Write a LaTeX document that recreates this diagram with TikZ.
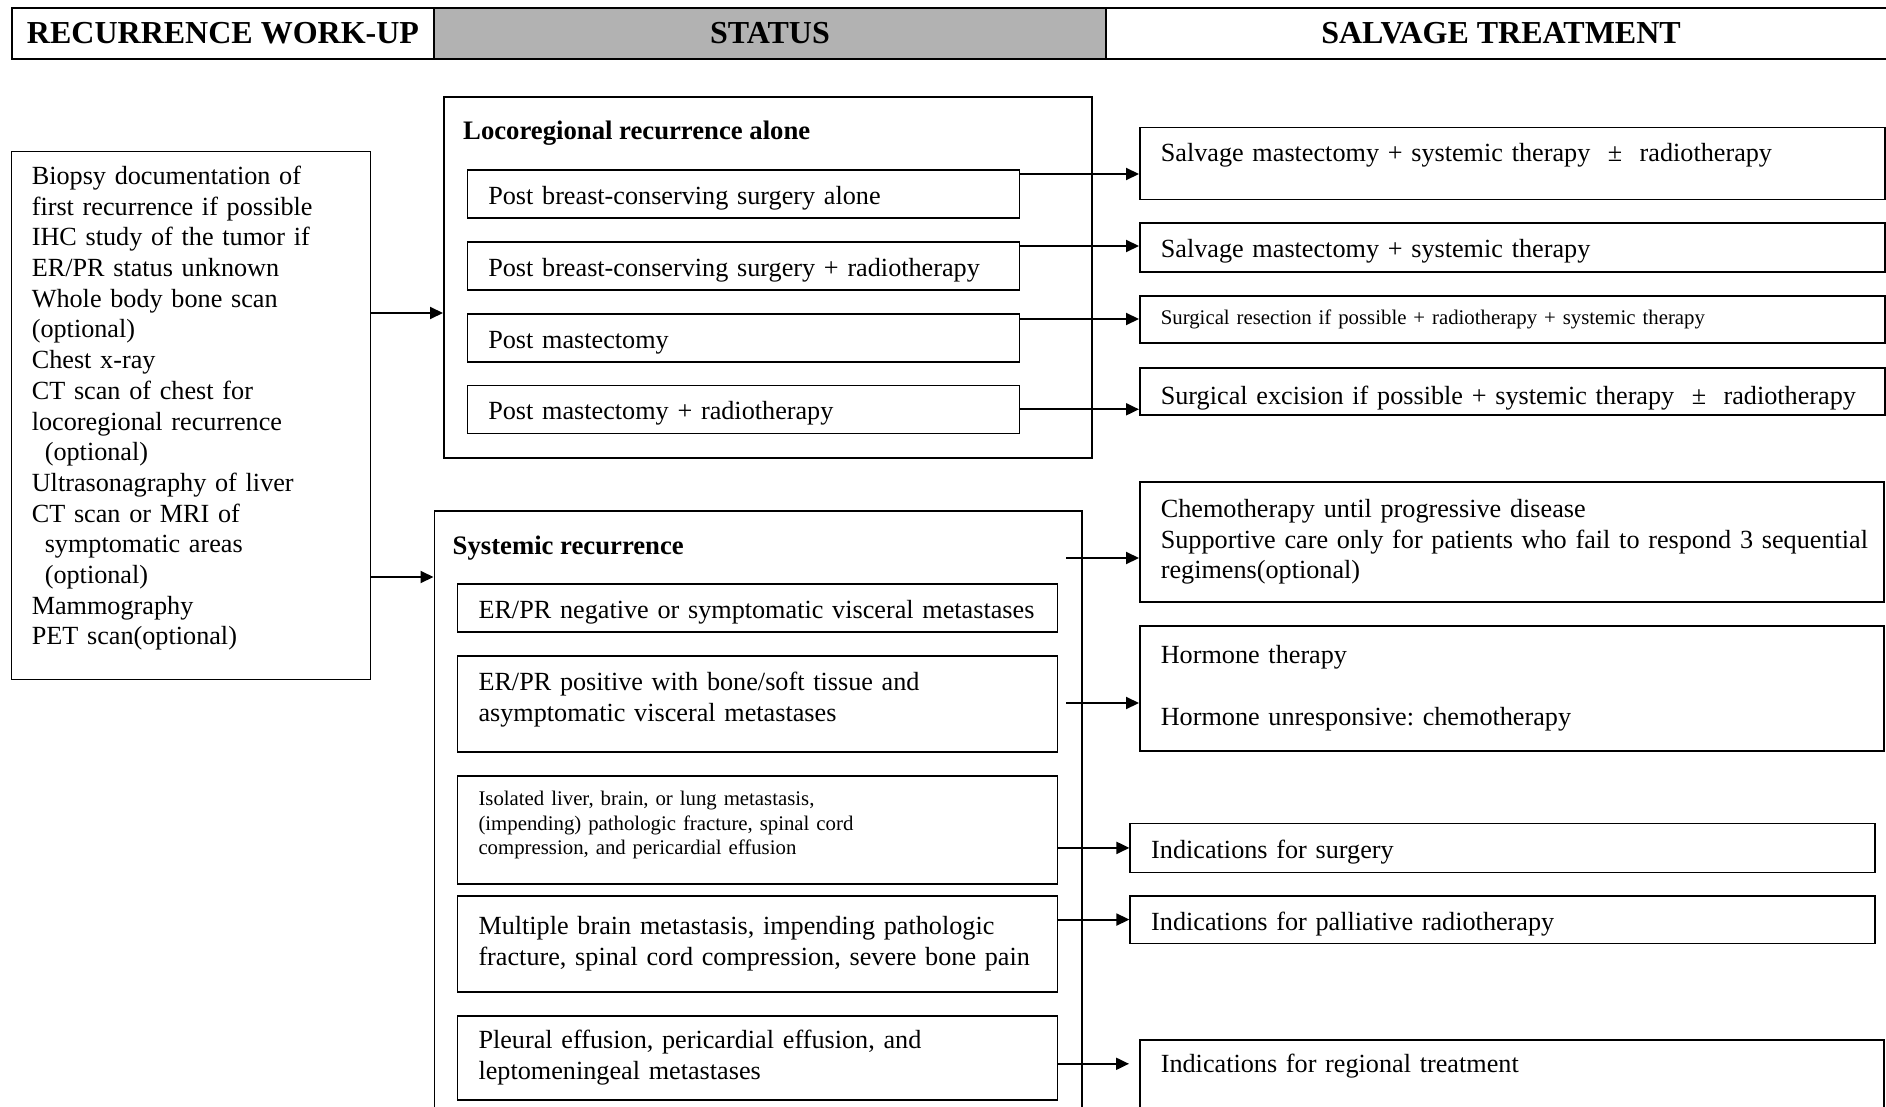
\documentclass[tikz,border=0pt]{standalone}
\usepackage{fontspec}
\setmainfont{Liberation Serif}
\usetikzlibrary{arrows.meta}
\frenchspacing

\newcommand{\corpo}{\fontsize{26.2}{30.7}\selectfont}
\newcommand{\piccolo}{\fontsize{20.8}{24.6}\selectfont}
\newcommand{\testata}{\fontsize{32}{36}\selectfont\bfseries}

\tikzset{
    cella/.style={draw, line width=2pt, anchor=north west, inner sep=0pt, minimum height=51pt, font=\testata},
    riquadro/.style={draw, line width=1.6pt, anchor=north west, inner sep=0pt},
    voce/.style={draw, line width=1.6pt, anchor=north west, align=left, inner xsep=21pt, inner ysep=0pt, font=\corpo,
        execute at begin node={\rightskip=0pt plus 1fil minus 60pt}},
    riga/.style={text height=27pt, text depth=6pt},
    titolo/.style={anchor=west, inner sep=0pt, font=\fontsize{26.7}{30.7}\selectfont\bfseries},
    freccia/.style={line width=2pt, -{Triangle[length=13pt,width=12pt]}},
}

\begin{document}
\begin{tikzpicture}[x=1pt, y=-1pt]
        \useasboundingbox (0,0) rectangle (1886,1107);

        % Intestazione
        \node[cella, minimum width=422pt] (h1) at (11,7) {RECURRENCE WORK-UP};
        \node[cella, minimum width=672pt, fill=gray!60] (h2) at (433,7) {STATUS};
        \node[cella, minimum width=790pt] (h3) at (1105,7) {SALVAGE TREATMENT};

        % Esami
        \node[voce, inner xsep=20.5pt, text width=318pt, minimum height=528pt] (wk) at (10.5,150.7) {Biopsy documentation of\\
            first recurrence if possible\\
            IHC study of the tumor if\\
            ER/PR status unknown\\
            Whole body bone scan\\
            (optional)\\
            Chest x-ray\\
            CT scan of chest for\\
            locoregional recurrence\\
            \hspace*{13pt}(optional)\\
            Ultrasonagraphy of liver\\
            CT scan or MRI of\\
            \hspace*{13pt}symptomatic areas\\
            \hspace*{13pt}(optional)\\
            Mammography\\
            PET scan(optional)\rule[-20pt]{0pt}{1pt}};

        % Recidiva locoregionale
        \node[riquadro, minimum width=648pt, minimum height=361pt] (loco) at (443,96) {};
        \node[titolo] (lrtitle) at (463,133) {Locoregional recurrence alone};
        \node[voce, riga, text width=510pt, minimum height=48pt] (lr1) at (466.5,169) {Post breast-conserving surgery alone};
        \node[voce, riga, text width=510pt, minimum height=48pt] (lr2) at (466.5,241) {Post breast-conserving surgery + radiotherapy};
        \node[voce, riga, text width=510pt, minimum height=48pt] (lr3) at (466.5,313) {Post mastectomy};
        \node[voce, riga, text width=510pt, minimum height=48pt] (lr4) at (466.5,384.5) {Post mastectomy + radiotherapy};

        \node[voce, text width=703pt, minimum height=72pt, text height=18pt, text depth=21.4pt] (rs1) at (1139,126.7) {Salvage mastectomy + systemic therapy ~±~ radiotherapy};
        \node[voce, riga, text width=703pt, minimum height=49pt] (rs2) at (1139,222) {Salvage mastectomy + systemic therapy};
        \node[voce, text width=703pt, minimum height=47pt, font=\piccolo] (rs3) at (1139,295) {Surgical resection if possible + radiotherapy + systemic therapy};
        \node[voce, riga, text height=32pt, text width=703pt, minimum height=47pt] (rs4) at (1139,367) {Surgical excision if possible + systemic therapy ~±~ radiotherapy};

        % Recidiva sistemica
        \node[riquadro, minimum width=647.5pt, minimum height=610pt] (sys) at (433.5,510.4) {};
        \node[titolo] (systitle) at (452.5,548) {Systemic recurrence};
        \node[voce, riga, text width=558pt, minimum height=48pt] (sy1) at (456.7,583) {ER/PR negative or symptomatic visceral metastases};
        \node[voce, text width=558pt, minimum height=96pt] (sy2) at (456.7,655) {ER/PR positive with bone/soft tissue and\\ asymptomatic visceral metastases\rule[-14pt]{0pt}{1pt}};
        \node[voce, text width=558pt, minimum height=108pt, font=\piccolo] (sy3) at (456.7,775) {Isolated liver, brain, or lung metastasis,\\ (impending) pathologic fracture, spinal cord\\ compression, and pericardial effusion\rule[-14pt]{0pt}{1pt}};
        \node[voce, text width=558pt, minimum height=96pt] (sy4) at (456.7,895) {Multiple brain metastasis, impending pathologic\\ fracture, spinal cord compression, severe bone pain};
        \node[voce, text width=558pt, minimum height=84pt] (sy5) at (456.7,1015) {Pleural effusion, pericardial effusion, and\\ leptomeningeal metastases};

        \node[voce, text width=702pt, minimum height=120pt] (rs5) at (1139,481) {Chemotherapy until progressive disease\\ Supportive care only for patients who fail to respond 3 sequential\\ regimens(optional)};
        \node[voce, text width=702pt, minimum height=125pt] (rs6) at (1139,625) {Hormone therapy\\ \mbox{}\\ Hormone unresponsive: chemotherapy};
        \node[voce, riga, text width=702.5pt, minimum height=49pt] (rs7) at (1129.4,822.6) {Indications for surgery};
        \node[voce, riga, text width=702.5pt, minimum height=47.5pt] (rs8) at (1129.4,895) {Indications for palliative radiotherapy};
        \node[voce, text width=702pt, minimum height=81pt, text height=18pt, text depth=33pt] (rs9) at (1139,1039) {Indications for regional treatment};

        % Frecce
        \draw[freccia] (wk.east |- lr3.north) -- (lr3.north -| loco.west);
        \draw[freccia] (wk.east |- sy1.north) ++(0,-6) coordinate (w2) -- (w2 -| sys.west);

        \draw[freccia] ([yshift=-5pt]lr1.north east) coordinate (l1) -- (l1 -| rs1.west);
        \draw[freccia] ([yshift=-5pt]lr2.north east) coordinate (l2) -- (l2 -| rs2.west);
        \draw[freccia] ([yshift=-6pt]lr3.north east) coordinate (l3) -- (l3 -| rs3.west);
        \draw[freccia] (lr4.east) -- (lr4.east -| rs4.west);

        \coordinate (ja) at (1066,558);
        \coordinate (jb) at (1066,703);
        \draw[freccia] (ja) -- (ja -| rs5.west);
        \draw[freccia] (jb) -- (jb -| rs6.west);
        \draw[freccia] (sy3.east |- rs7.west) -- (rs7.west);
        \draw[freccia] (sy4.east |- rs8.west) -- (rs8.west);
        \draw[freccia, shorten >=10pt] ([yshift=-6pt]sy5.east) coordinate (s5) -- (s5 -| rs9.west);
\end{tikzpicture}
\end{document}
